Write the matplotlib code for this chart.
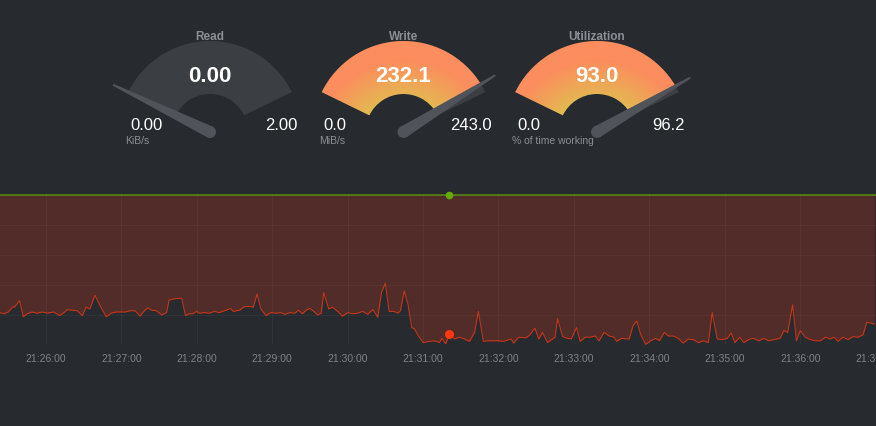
import numpy as np
import matplotlib
matplotlib.use("Agg")
import matplotlib.pyplot as plt
from matplotlib.patches import Wedge, Polygon, Circle
from matplotlib.ticker import FuncFormatter, MultipleLocator

plt.rcParams['font.family'] = ['Liberation Sans', 'DejaVu Sans']

# gauges
gauge_titles = ['Read', 'Write', 'Utilization']
gauge_values = [0.00, 232.1, 93.0]
gauge_min = [0.0, 0.0, 0.0]
gauge_max = [2.00, 243.0, 96.2]
gauge_fmt = ['{:.2f}', '{:.1f}', '{:.1f}']
gauge_units = ['KiB/s', 'MiB/s', '% of time working']

# disk write rate, seconds after 21:26:00 -> MiB/s (drawn downward)
t_sec = [-37, -33, -30, -26, -25, -21, -18, -15, -11, -7, -3, 1, 6, 11, 15, 17, 21, 25, 29, 32, 35, 39, 43, 48, 52, 56, 63,
         67, 71, 75, 77, 81, 84, 88, 92, 96, 98, 102, 108, 111, 114, 117, 120, 122, 126, 130, 134, 138, 142, 147, 149, 154, 158,
         162, 165, 168, 171, 175, 179, 183, 187, 190, 194, 198, 201, 204, 207, 210, 213, 216, 219, 221, 225, 228, 232, 236, 240,
         244, 248, 252, 256, 260,
         264, 267, 270, 273, 277, 280, 282, 285, 288, 291, 293, 297, 300, 305, 309, 313, 315, 318, 321, 325, 329, 333, 337, 341,
         344, 348, 352, 356,
         360, 364, 370, 372, 376, 382, 385, 389, 392, 395, 399, 403, 405, 407, 411, 415, 418, 422, 425, 429, 433, 437, 440, 444,
         448, 452, 454, 458,
         464, 467, 470, 473, 477, 481, 485, 488, 492, 495, 499, 503, 507, 511, 515, 519, 523, 527, 530, 534, 538, 542, 545, 548,
         552, 555, 560,
         563, 567, 571, 575, 579, 584, 587, 590, 594, 597, 600, 604, 608, 612, 616, 620, 624, 627, 630, 634, 638, 642, 646, 650,
         653, 659]
write_mib = [196, 198, 195, 186, 187, 176, 203, 198, 195, 197, 195, 197, 195, 201, 195, 191, 192, 193, 201, 187, 190, 167, 184, 203, 197, 195, 195,
             193, 193, 202, 196, 188, 192, 193, 200, 196, 175, 173, 172, 201, 198, 198, 194, 197, 196, 197, 194, 196, 193, 189, 194, 192, 186,
             186, 187, 165, 190, 201, 196, 197, 196, 199, 196, 197, 192, 198, 192, 189, 194, 200, 197, 163, 190, 187, 194, 202, 196,
             198, 197, 194, 199, 191,
             204, 162, 147, 194, 194, 197, 193, 160, 182, 221, 223, 237, 246, 244, 243, 246, 239, 248, 232, 240, 237, 240, 244, 229,
             194, 244, 243, 243,
             243, 244, 240, 247, 237, 238, 233, 222, 240, 229, 246, 240, 237, 206, 236, 239, 240, 221, 244, 237, 237, 235, 243, 229,
             235, 237, 244, 239,
             240, 218, 210, 232, 249, 243, 239, 243, 229, 235, 235, 239, 247, 240, 241, 246, 243, 246, 196, 240, 241, 239, 230, 246,
             237, 246, 240,
             239, 243, 239, 243, 241, 239, 226, 229, 183, 243, 226, 237, 241, 243, 243, 237, 240, 237, 244, 237, 241, 236, 237, 233,
             212, 215]
hover_t = 321
hover_write = 232.1

W, H = 876, 427
BG = '#272a2e'
RED = '#fe3912'
GREEN = '#66aa00'
GREY_TXT = '#8c9096'

fig = plt.figure(figsize=(W / 100, H / 100), dpi=100, facecolor=BG)

# ---- time chart ----
ax = fig.add_axes([0, (H - 346) / H, 1, 152 / H])
ax.set_facecolor(BG)
t = np.array(t_sec, dtype=float)
w = -np.array(write_mib, dtype=float)
ax.fill_between(t, 0, w, color=RED, alpha=0.2, lw=0, zorder=1)
ax.plot(t, w, color=RED, lw=0.75, alpha=0.72, zorder=3)
ax.axhline(0, color=GREEN, lw=1.4, alpha=0.6, zorder=3, clip_on=False)
ax.plot([hover_t], [0], 'o', color=GREEN, ms=5.5, mec='none', zorder=4, clip_on=False)
ax.plot([hover_t], [-hover_write], 'o', color=RED, ms=6.5, mec='none', zorder=4, clip_on=False)
ax.set_xlim(-36.5, 660.3)
ax.set_ylim(-250, 250 * 2 / 150)


def fmt_time(s, pos):
    total = 21 * 3600 + 26 * 60 + int(round(s))
    return f"{total // 3600:02d}:{total % 3600 // 60:02d}:{total % 60:02d}"


ax.xaxis.set_major_locator(MultipleLocator(60))
ax.xaxis.set_major_formatter(FuncFormatter(fmt_time))
ax.yaxis.set_major_locator(MultipleLocator(50))
ax.grid(True, color='white', alpha=0.04, lw=0.8, zorder=2)
ax.tick_params(axis='y', left=False, labelleft=False)
ax.tick_params(axis='x', length=0, pad=6, labelsize=7.5, labelcolor='#7f8389')
for sp in ax.spines.values():
    sp.set_visible(False)

# ---- gauges ----
ov = fig.add_axes([0, 0, 1, 1])
ov.patch.set_alpha(0)
ov.axis('off')

A0, A1 = 26, 154
R, r = 91, 38
orange = np.array([252, 141, 94]) / 255
yellow = np.array([226, 188, 80]) / 255

for i in range(3):
    cx = 210 + 193.5 * i
    cy = H - 133
    val, mn, mx = gauge_values[i], gauge_min[i], gauge_max[i]
    frac = (val - mn) / (mx - mn)
    ang_v = A1 - frac * (A1 - A0)

    ov.add_patch(Wedge((cx, cy), R, A0, A1, width=R - r, fc='#3b3e43', ec='none', zorder=1))
    if frac > 0:
        gx = np.linspace(cx - R, cx + R, 220)
        gy = np.linspace(cy - 5, cy + R + 2, 120)
        X, Y = np.meshgrid(gx, gy)
        d = np.hypot(X - cx, Y - (cy - 22))
        k = np.clip((d - 52) / 42, 0, 1)[..., None]
        rgb = yellow * (1 - k) + orange * k
        im = ov.imshow(rgb, extent=(gx[0], gx[-1], gy[0], gy[-1]), origin='lower',
                       interpolation='bilinear', zorder=2)
        clip = Wedge((cx, cy), R, ang_v, A1, width=R - r, transform=ov.transData)
        im.set_clip_path(clip)

    ov.text(cx, H - 37.5, gauge_titles[i], ha='center', va='center', color=GREY_TXT, fontsize=8.5,
            fontweight='bold', zorder=5)
    ov.text(cx, H - 77, gauge_fmt[i].format(val), ha='center', va='center', color='white',
            fontsize=16, fontweight='bold', zorder=5)
    ov.text(cx - 80, H - 126, gauge_fmt[i].format(mn), ha='left', va='center', color='white', fontsize=12, zorder=5)
    ov.text(cx + 88, H - 126, gauge_fmt[i].format(mx), ha='right', va='center', color='white', fontsize=12, zorder=5)
    ov.text(cx - 84.5, H - 141, gauge_units[i], ha='left', va='center', color=GREY_TXT, fontsize=7.5, zorder=5)

    # needle
    a = np.radians(ang_v)
    ux, uy = np.cos(a), np.sin(a)
    px, py = -uy, ux
    L, wb, wt = 108, 6, 1
    needle = [(cx + px * wb, cy + py * wb),
              (cx + ux * L + px * wt, cy + uy * L + py * wt),
              (cx + ux * L - px * wt, cy + uy * L - py * wt),
              (cx - px * wb, cy - py * wb)]
    ov.add_patch(Polygon(needle, closed=True, fc='#50545a', ec='none', zorder=6))
    ov.add_patch(Circle((cx, cy), wb, fc='#50545a', ec='none', zorder=6))

ov.set_aspect('auto')
ov.set_xlim(0, W)
ov.set_ylim(0, H)

fig.savefig('out.png', dpi=100, facecolor=BG)
